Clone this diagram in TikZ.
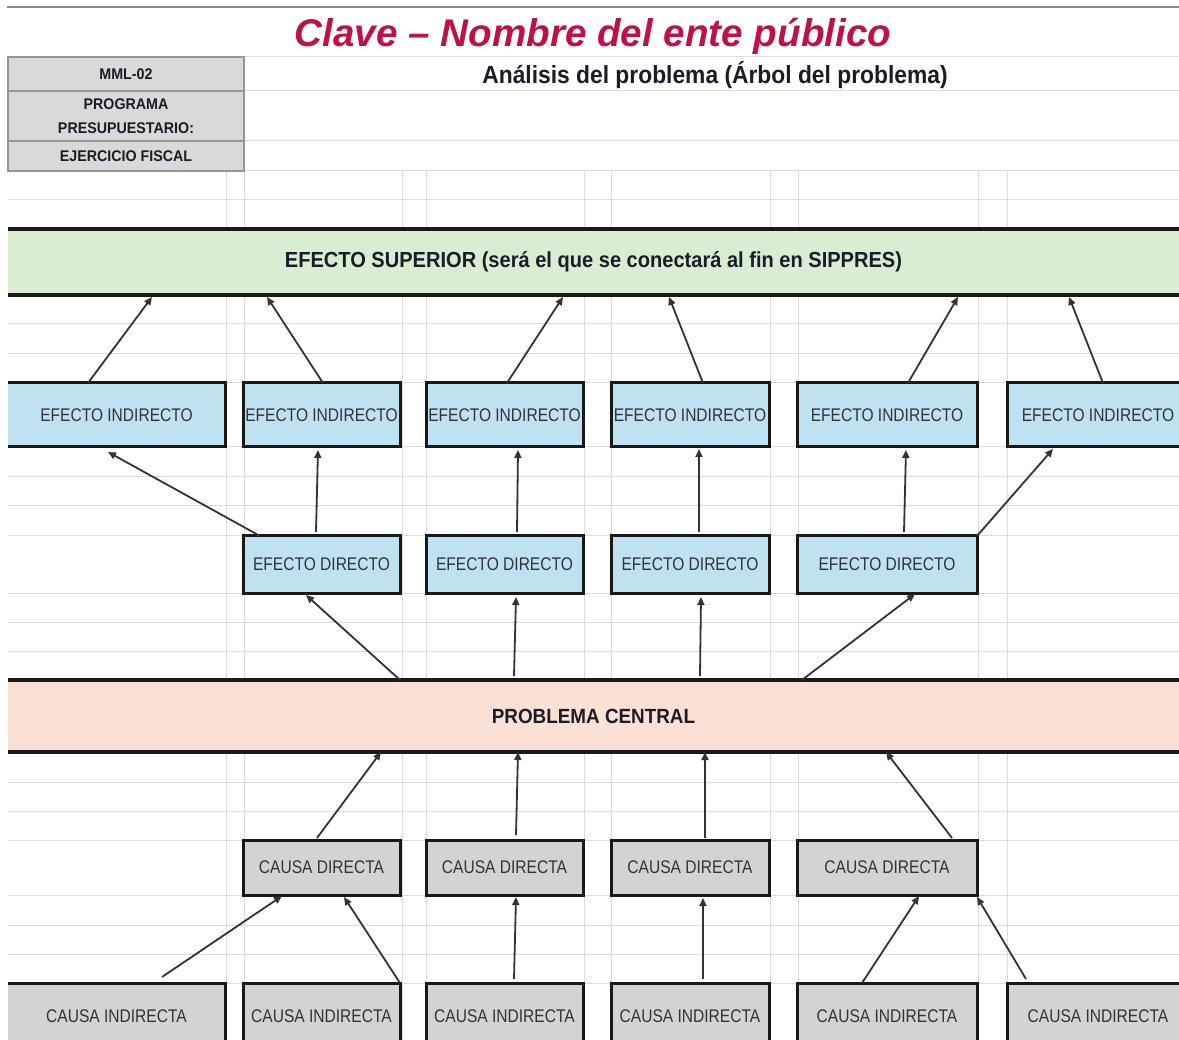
\documentclass[tikz,border=0pt]{standalone}
\usepackage{fontspec}
\setmainfont{Liberation Sans}
\newfontfamily\rgfam[FakeStretch=0.85]{Liberation Sans}
\newfontfamily\bdfam[FakeStretch=0.92]{Liberation Sans}
\usetikzlibrary{arrows.meta,calc}
\definecolor{gridc}{RGB}{218,218,218}
\definecolor{bluef}{RGB}{191,226,242}
\definecolor{grayf}{RGB}{211,211,211}
\definecolor{greenf}{RGB}{217,237,211}
\definecolor{peachf}{RGB}{251,224,213}
\definecolor{hdrf}{RGB}{217,217,217}
\definecolor{hdrl}{RGB}{150,150,150}
\definecolor{titlec}{RGB}{192,16,72}
\definecolor{txtc}{RGB}{50,50,56}
\definecolor{bdtxt}{RGB}{28,28,40}
\newcommand\mkbox[7]{\node[#6, minimum width={#4-#2}, minimum height={#5-#3}] (#1) at ({(#2+#4)/2},{(#3+#5)/2}) {#7};}
\tikzset{
  gridln/.style={draw=gridc, line width=1pt},
  boxbase/.style={rectangle, inner sep=0pt, outer sep=0pt, font=\rgfam\fontsize{18.3}{20}\selectfont, text=txtc},
  bluebox/.style={boxbase, fill=bluef, draw=black!90, line width=3pt},
  grybox/.style={boxbase, fill=grayf, draw=black!90, line width=3pt},
  blueopen/.style={boxbase, fill=bluef},
  grayopen/.style={boxbase, fill=grayf},
  boxline/.style={draw=black!90, line width=3pt},
  band/.style={rectangle, inner sep=0pt, outer sep=0pt, font=\bdfam\bfseries\fontsize{20.5}{22}\selectfont, text=bdtxt},
  bandline/.style={draw=black!90, line width=3.2pt},
  hdr/.style={rectangle, inner sep=0pt, outer sep=0pt, fill=hdrf, draw=hdrl, line width=1.6pt, align=center, font=\bdfam\bfseries\fontsize{15.5}{24}\selectfont, text=bdtxt},
  arr/.style={draw=black!80, line width=1.8pt, -{Triangle[length=8pt,width=7pt]}}
}
\begin{document}
\begin{tikzpicture}[x=1pt,y=-1pt]
\useasboundingbox (0,0) rectangle (1179,1040);
\fill[white] (0,0) rectangle (1179,1040);
% grid
\foreach \y in {200,229,295,324,354,383,447,477,506,536,593,622,651,680,752,782,811,840,895,925,954,983}
  \draw[gridln] (8,\y) -- (1179,\y);
\foreach \y in {57,91,141,171}
  \draw[gridln] (244,\y) -- (1179,\y);
\foreach \x in {226,244,402,426,584,611,770,798,978,1007}
  \draw[gridln] (\x,171) -- (\x,1040);
\draw[draw=black!45, line width=1.2pt] (7,7) -- (1179,7);

% titles
\node[font=\bfseries\itshape\fontsize{38.6}{40}\selectfont, text=titlec, inner sep=0pt] (title) at (593,36) {Clave -- Nombre del ente público};
\node[font=\bdfam\bfseries\fontsize{24.8}{26}\selectfont, text=bdtxt, inner sep=0pt] (analisis) at (715,75) {Análisis del problema (Árbol del problema)};

% header table
\mkbox{mml}{8}{57}{244}{91}{hdr}{MML-02}
\mkbox{prog}{8}{91}{244}{141}{hdr}{PROGRAMA\\PRESUPUESTARIO:}
\mkbox{ejer}{8}{141}{244}{171}{hdr}{EJERCICIO FISCAL}

% bands
\mkbox{sup}{8}{229}{1179}{295}{band, fill=greenf, font=\bdfam\bfseries\fontsize{21.8}{23}\selectfont}{EFECTO SUPERIOR (será el que se conectará al fin en SIPPRES)}
\draw[bandline] (sup.north west) -- (sup.north east);
\draw[bandline] (sup.south west) -- (sup.south east);
\mkbox{prob}{8}{680}{1179}{752}{band, fill=peachf}{PROBLEMA CENTRAL}
\draw[bandline] (prob.north west) -- (prob.north east);
\draw[bandline] (prob.south west) -- (prob.south east);

% efecto indirecto
\mkbox{ei1}{8}{383}{225}{447}{blueopen}{EFECTO INDIRECTO}
\draw[boxline] (ei1.north west) -- (ei1.north east) -- (ei1.south east) -- (ei1.south west);
\mkbox{ei2}{243}{383}{400}{447}{bluebox}{EFECTO INDIRECTO}
\mkbox{ei3}{426}{383}{583}{447}{bluebox}{EFECTO INDIRECTO}
\mkbox{ei4}{611}{383}{769}{447}{bluebox}{EFECTO INDIRECTO}
\mkbox{ei5}{797}{383}{977}{447}{bluebox}{EFECTO INDIRECTO}
\mkbox{ei6}{1007}{383}{1189}{447}{bluebox}{EFECTO INDIRECTO}

% efecto directo
\mkbox{ed1}{243}{536}{400}{593}{bluebox}{EFECTO DIRECTO}
\mkbox{ed2}{426}{536}{583}{593}{bluebox}{EFECTO DIRECTO}
\mkbox{ed3}{611}{536}{769}{593}{bluebox}{EFECTO DIRECTO}
\mkbox{ed4}{797}{536}{977}{593}{bluebox}{EFECTO DIRECTO}

% causa directa
\mkbox{cd1}{243}{840}{400}{895}{grybox}{CAUSA DIRECTA}
\mkbox{cd2}{426}{840}{583}{895}{grybox}{CAUSA DIRECTA}
\mkbox{cd3}{611}{840}{769}{895}{grybox}{CAUSA DIRECTA}
\mkbox{cd4}{797}{840}{977}{895}{grybox}{CAUSA DIRECTA}

% causa indirecta
\mkbox{ci1}{8}{983}{225}{1050}{grayopen}{CAUSA INDIRECTA}
\draw[boxline] (ci1.south east) -- (ci1.north east) -- (ci1.north west);
\mkbox{ci2}{243}{983}{400}{1050}{grybox}{CAUSA INDIRECTA}
\mkbox{ci3}{426}{983}{583}{1050}{grybox}{CAUSA INDIRECTA}
\mkbox{ci4}{611}{983}{769}{1050}{grybox}{CAUSA INDIRECTA}
\mkbox{ci5}{797}{983}{977}{1050}{grybox}{CAUSA INDIRECTA}
\mkbox{ci6}{1007}{983}{1189}{1050}{grybox}{CAUSA INDIRECTA}

% arrows EI -> superior
\draw[arr] ($(ei1.north)+(-28.5,0)$) -- ($(sup.south)+(-441.5,2)$);
\draw[arr] ($(ei2.north)+(1.5,0)$) -- ($(sup.south)+(-326.5,2)$);
\draw[arr] ($(ei3.north)+(2.5,0)$) -- ($(sup.south)+(-30.5,2)$);
\draw[arr] ($(ei4.north)+(13,0)$) -- ($(sup.south)+(75.5,2)$);
\draw[arr] ($(ei5.north)+(21,0)$) -- ($(sup.south)+(364.5,2)$);
\draw[arr] ($(ei6.north)+(5,0)$) -- ($(sup.south)+(475.5,2)$);

% arrows ED -> EI
\draw[arr] ($(ed1.north)+(-61.5,0)$) -- ($(ei1.south)+(-8.5,5)$);
\draw[arr] ($(ed1.north)+(-5.5,-4)$) -- ($(ei2.south)+(-3.5,3)$);
\draw[arr] ($(ed2.north)+(12.5,-4)$) -- ($(ei3.south)+(13.5,3)$);
\draw[arr] ($(ed3.north)+(9,-4)$) -- ($(ei4.south)+(9,2)$);
\draw[arr] ($(ed4.north)+(17,-4)$) -- ($(ei5.south)+(19,3)$);
\draw[arr] (ed4.north east) -- ($(ei6.south)+(-45,2)$);

% arrows problem -> ED
\draw[arr] ($(prob.north)+(-193.5,0)$) -- ($(ed1.south)+(-15.5,2)$);
\draw[arr] ($(prob.north)+(-79.5,-4)$) -- ($(ed2.south)+(11.5,4)$);
\draw[arr] ($(prob.north)+(106.5,-4)$) -- ($(ed3.south)+(11,4)$);
\draw[arr] ($(prob.north)+(208.5,0)$) -- ($(ed4.south)+(28,1)$);

% arrows CD -> problem
\draw[arr] ($(cd1.north)+(-4.5,-2)$) -- ($(prob.south)+(-212.5,0)$);
\draw[arr] ($(cd2.north)+(11.5,-5)$) -- ($(prob.south)+(-75.5,0)$);
\draw[arr] ($(cd3.north)+(15,-2)$) -- ($(prob.south)+(111.5,0)$);
\draw[arr] ($(cd4.north)+(65,-2)$) -- ($(prob.south)+(292.5,0)$);

% arrows CI -> CD
\draw[arr] ($(ci1.north)+(45.5,-6)$) -- ($(cd1.south)+(-39.5,1)$);
\draw[arr] (ci2.north east) -- ($(cd1.south)+(22.5,2)$);
\draw[arr] ($(ci3.north)+(9.5,-4)$) -- ($(cd2.south)+(11.5,2)$);
\draw[arr] ($(ci4.north)+(13,-4)$) -- ($(cd3.south)+(13,3)$);
\draw[arr] ($(ci5.north)+(-25,0)$) -- ($(cd4.south)+(32,1)$);
\draw[arr] ($(ci6.north)+(-72,-4)$) -- ($(cd4.south east)+(0,2)$);
\end{tikzpicture}
\end{document}
